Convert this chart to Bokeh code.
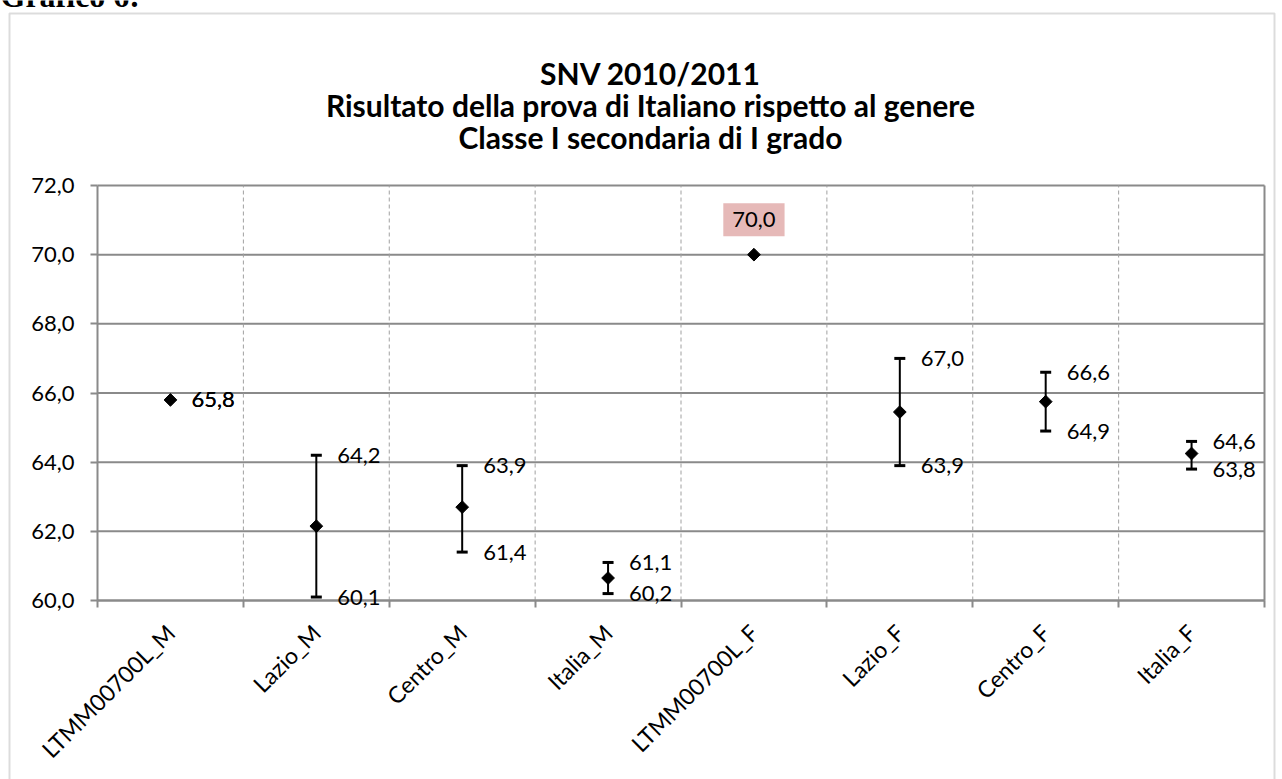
import numpy as np
from bokeh.plotting import figure
from bokeh.models import (ColumnDataSource, FixedTicker, LabelSet, Label, Range1d,
                          BoxAnnotation)
from bokeh.core.properties import value
from bokeh.embed import file_html
from bokeh.resources import INLINE

# ---------------- data ----------------
categories = ["LTMM00700L_M", "Lazio_M", "Centro_M", "Italia_M",
              "LTMM00700L_F", "Lazio_F", "Centro_F", "Italia_F"]
means = [65.8, 62.15, 62.7, 60.65, 70.0, 65.45, 65.75, 64.25]
highs = [65.8, 64.2, 63.9, 61.1, 70.0, 67.0, 66.6, 64.6]
lows = [65.8, 60.1, 61.4, 60.2, 70.0, 63.9, 64.9, 63.8]
highlight_index = 4
y_ticks = [60, 62, 64, 66, 68, 70, 72]
y_tick_labels = ["60,0", "62,0", "64,0", "66,0", "68,0", "70,0", "72,0"]
title_lines = ["SNV 2010/2011",
               "Risultato della prova di Italiano rispetto al genere",
               "Classe I secondaria di I grado"]
caption = "Grafico 6:"

# ---------------- layout (pixels) ----------------
W, H = 1282, 779
PLOT_L, PLOT_R, PLOT_T, PLOT_B = 97, 1264, 185, 600
FONT = "Lato"
GRAY = "#8a8a8a"


def fmt(v):
    return f"{v:.1f}".replace(".", ",")


n = len(categories)
centers = [i + 0.5 for i in range(n)]
y0, y1 = y_ticks[0], y_ticks[-1]
xppu = (PLOT_R - PLOT_L) / n
yppu = (PLOT_B - PLOT_T) / (y1 - y0)

p = figure(width=W, height=H, output_backend="svg", toolbar_location=None,
           x_range=Range1d(-PLOT_L / xppu, n + (W - PLOT_R) / xppu),
           y_range=Range1d(y0 - (H - PLOT_B) / yppu, y1 + PLOT_T / yppu),
           min_border=0)
p.background_fill_color = "white"
p.border_fill_color = "white"
p.outline_line_color = None
p.xgrid.visible = False
p.ygrid.visible = False

# gridlines of the plot area
hg = ColumnDataSource(dict(y=y_ticks, x0=[0] * len(y_ticks), x1=[n] * len(y_ticks)))
p.segment(x0="x0", y0="y", x1="x1", y1="y", source=hg, line_color=GRAY, line_width=2)
bounds_x = list(range(1, n))
vg = ColumnDataSource(dict(x=bounds_x, b=[y0] * len(bounds_x), t=[y1] * len(bounds_x)))
p.segment(x0="x", y0="b", x1="x", y1="t", source=vg, line_color="#a0a0a0",
          line_width=1, line_dash="4 3")
p.segment(x0=[n], y0=[y0], x1=[n], y1=[y1], line_color=GRAY, line_width=2)

# y axis (drawn at the left edge of the plot area)
p.yaxis.fixed_location = 0
p.yaxis.bounds = (y0, y1)
p.yaxis.ticker = FixedTicker(ticks=y_ticks)
p.yaxis.major_label_overrides = {t: l for t, l in zip(y_ticks, y_tick_labels)}
p.yaxis.major_label_text_font = FONT
p.yaxis.major_label_text_font_size = "22px"
p.yaxis.major_label_text_color = "black"
p.yaxis.axis_line_color = GRAY
p.yaxis.axis_line_width = 2
p.yaxis.major_tick_line_color = GRAY
p.yaxis.major_tick_line_width = 2
p.yaxis.major_tick_in = 0
p.yaxis.major_tick_out = 7
p.yaxis.minor_tick_line_color = None
p.yaxis.major_label_standoff = 16

# x axis: labels at centres, tick marks at category boundaries
p.xaxis.fixed_location = y0
p.xaxis.bounds = (0, n)
p.xaxis.ticker = FixedTicker(ticks=centers, minor_ticks=list(range(n + 1)))
p.xaxis.major_label_overrides = {c: name for c, name in zip(centers, categories)}
p.xaxis.major_label_orientation = np.pi / 4
p.xaxis.major_label_text_font = FONT
p.xaxis.major_label_text_font_size = "23px"
p.xaxis.major_label_text_color = "black"
p.xaxis.major_tick_line_color = None
p.xaxis.major_tick_out = 0
p.xaxis.major_tick_in = 0
p.xaxis.minor_tick_line_color = GRAY
p.xaxis.minor_tick_line_width = 2
p.xaxis.minor_tick_out = 7
p.xaxis.minor_tick_in = 0
p.xaxis.axis_line_color = GRAY
p.xaxis.axis_line_width = 2
p.xaxis.major_label_standoff = 21

# error bars (only where a range exists)
eb_idx = [i for i in range(n) if highs[i] != lows[i]]
eb = ColumnDataSource(dict(x=[centers[i] for i in eb_idx],
                           hi=[highs[i] for i in eb_idx],
                           lo=[lows[i] for i in eb_idx]))
p.segment(x0="x", y0="lo", x1="x", y1="hi", source=eb, line_color="black", line_width=2)
p.scatter(x="x", y="hi", source=eb, marker="dash", size=11, line_color="black",
          line_width=3)
p.scatter(x="x", y="lo", source=eb, marker="dash", size=11, line_color="black",
          line_width=3)

# mean markers
pts = ColumnDataSource(dict(x=centers, y=means))
p.scatter(x="x", y="y", source=pts, marker="square", angle=np.pi / 4, size=9,
          fill_color="black", line_color="black")

# data labels
lab_idx = [i for i in range(n) if i != highlight_index]
lab_src = ColumnDataSource(dict(
    x=[centers[i] for i in lab_idx] * 2,
    y=[highs[i] for i in lab_idx] + [lows[i] for i in lab_idx],
    t=[fmt(highs[i]) for i in lab_idx] + [fmt(lows[i]) for i in lab_idx]))
p.add_layout(LabelSet(x="x", y="y", text="t", source=lab_src, x_offset=21,
                      text_baseline="middle", text_align="left",
                      text_font=value(FONT), text_font_size="22px",
                      text_color="black"))

p.add_layout(Label(x=centers[highlight_index], y=means[highlight_index],
                   y_offset=35, text=fmt(means[highlight_index]),
                   text_align="center", text_baseline="middle",
                   text_font=FONT, text_font_size="22px", text_color="black",
                   background_fill_color="#e6b9b8", padding=9))

# outer chart border (left, top, right; bottom runs past the window)
p.add_layout(BoxAnnotation(left=9, right=1274, top=H - 13, bottom=-20,
                           left_units="screen", right_units="screen",
                           top_units="screen", bottom_units="screen",
                           fill_alpha=0, line_color=GRAY, line_width=2))

# title
for k, line in enumerate(title_lines):
    p.add_layout(Label(x=650, y=H - (72 + 32 * k), x_units="screen", y_units="screen",
                       text=line, text_align="center", text_baseline="middle",
                       text_font=FONT, text_font_size="30px",
                       text_font_style="bold", text_color="black"))

# caption above the chart (cut by the top of the page, as in the original)
p.add_layout(Label(x=0, y=H + 5, x_units="screen", y_units="screen", text=caption,
                   text_align="left", text_baseline="alphabetic",
                   text_font="Liberation Serif", text_font_size="32px",
                   text_font_style="bold", text_color="black"))

open("out.html", "w").write(file_html(p, INLINE))
